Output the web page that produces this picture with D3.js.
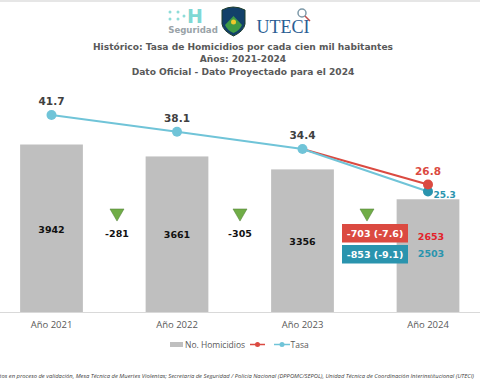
<!DOCTYPE html>
<html>
<head>
<meta charset="utf-8">
<script src="https://cdn.jsdelivr.net/npm/d3@7"></script>
<style>
  html, body { margin: 0; padding: 0; background: #fff; }
  svg { display: block; }
  text { font-family: "DejaVu Sans", sans-serif; }
</style>
</head>
<body>
<svg id="chart" width="480" height="384"></svg>
<script>
const years = ["Año 2021", "Año 2022", "Año 2023", "Año 2024"]
const homicidios = [3942, 3661, 3356, 2653]
const tasaOficial = [41.7, 38.1, 34.4, 25.3]
const tasaProyectada = [34.4, 26.8]
const proyectadoYears = ["Año 2023", "Año 2024"]
const cambios = ["-281", "-305"]
const titleLines = [
  "Histórico: Tasa de Homicidios por cada cien mil habitantes",
  "Años: 2021-2024",
  "Dato Oficial - Dato Proyectado para el 2024"
]
const source = "Datos en proceso de validación, Mesa Técnica de Muertes Violentas; Secretaría de Seguridad / Policía Nacional (DPPOMC/SEPOL), Unidad Técnica de Coordinación Interinstitucional (UTECI)"

const gray = "#bfbfbf", blue = "#70c4d8", red = "#db4a41", teal = "#2a94ae", green = "#70ad47"

const svg = d3.select("#chart")

svg.append("rect").attr("width", 480).attr("height", 2).attr("fill", "#e6e6e6")

const x = d3.scaleBand().domain(years).range([-11.25, 490.75]).paddingInner(0.5).paddingOuter(0.25)
const yBar = d3.scaleLinear().domain([0, 3942]).range([312, 144.5])
const yRate = d3.scaleLinear().domain([25.3, 41.7]).range([191.5, 115])
const cx = d => x(d) + x.bandwidth() / 2

// logos
const logos = svg.append("g")
logos.selectAll(".dot")
  .data([[170, 12], [170, 19], [178, 12], [178, 19], [184, 16]])
  .enter().append("circle")
  .attr("cx", d => d[0]).attr("cy", d => d[1]).attr("r", 1.5).attr("fill", "#8fdcd8")
logos.append("text").attr("x", 195).attr("y", 23).attr("text-anchor", "middle")
  .attr("font-size", 19).attr("font-weight", "bold").attr("fill", "#7fd8d4").text("H")
logos.append("text").attr("x", 193).attr("y", 33).attr("text-anchor", "middle")
  .attr("font-size", 8.6).attr("font-weight", "bold").attr("fill", "#9aa3a8").text("Seguridad")
logos.append("path").attr("d", "M222 10 Q233 4 245 10 L245 24 Q244 31 233.500 36 Q223 31 222 24 Z")
  .attr("fill", "#12406a").attr("stroke", "#1d3c2a").attr("stroke-width", 1)
logos.append("path").attr("d", "M225 25 L233.500 16 L242 25 Q240 30 233.500 33 Q227 30 225 25 Z").attr("fill", "#3f9b45")
logos.append("circle").attr("cx", 233.5).attr("cy", 22).attr("r", 2.5).attr("fill", "#f0c92c")
logos.append("text").attr("x", 256.500).attr("y", 33).style("font-family", "Liberation Serif")
  .attr("font-size", 18).attr("fill", "#2a5d93").text("UTECI")
logos.append("circle").attr("cx", 302).attr("cy", 13).attr("r", 4).attr("fill", "#fff")
  .attr("stroke", "#7d99a8").attr("stroke-width", 1.5)
logos.append("line").attr("x1", 305).attr("y1", 16).attr("x2", 310).attr("y2", 21)
  .attr("stroke", "#c0504d").attr("stroke-width", 1.5)

// titles
svg.selectAll(".title")
  .data(titleLines)
  .enter().append("text")
  .attr("class", "title")
  .attr("x", 243).attr("y", (_, i) => 49.500 + i * 12.500)
  .attr("text-anchor", "middle").attr("font-size", 9.1).attr("font-weight", "bold")
  .attr("fill", "#595959").text(d => d)

// bars
svg.selectAll(".bar")
  .data(homicidios)
  .enter().append("rect")
  .attr("class", "bar")
  .attr("x", (_, i) => x(years[i])).attr("width", x.bandwidth())
  .attr("y", d => yBar(d)).attr("height", d => yBar(0) - yBar(d))
  .attr("fill", gray)

const xAxis = d3.axisBottom(x).tickSize(0).tickPadding(9)
const axis = svg.append("g").attr("transform", "translate(0,312)").call(xAxis)
axis.select(".domain").attr("stroke", "#d9d9d9").attr("d", "M0,0.5H480")
axis.selectAll("text").attr("fill", "#595959").attr("font-size", 9.500).style("font-family", "Open Sans")

// lines
const line = (data, names) => d3.line().x((_, i) => cx(names[i])).y(d => yRate(d))(data)
svg.append("path").attr("d", line(tasaProyectada, proyectadoYears))
  .attr("fill", "none").attr("stroke", red).attr("stroke-width", 2)
svg.append("path").attr("d", line(tasaOficial, years))
  .attr("fill", "none").attr("stroke", blue).attr("stroke-width", 2)
svg.append("circle").attr("cx", cx(years[3])).attr("cy", yRate(25.3)).attr("r", 5).attr("fill", teal)
svg.append("circle").attr("cx", cx(years[3])).attr("cy", yRate(26.8)).attr("r", 5).attr("fill", red)
svg.selectAll(".pt")
  .data(tasaOficial.slice(0, 3))
  .enter().append("circle")
  .attr("class", "pt")
  .attr("cx", (_, i) => cx(years[i])).attr("cy", d => yRate(d)).attr("r", 5).attr("fill", blue)

svg.selectAll(".rate")
  .data(tasaOficial.slice(0, 3))
  .enter().append("text")
  .attr("class", "rate")
  .attr("x", (_, i) => cx(years[i])).attr("y", d => yRate(d) - 10)
  .attr("text-anchor", "middle").attr("font-size", 10.5).attr("font-weight", "bold")
  .attr("fill", "#404040").text(d => d.toFixed(1))
svg.append("text").attr("x", cx(years[3])).attr("y", yRate(26.8) - 10)
  .attr("text-anchor", "middle").attr("font-size", 10.5).attr("font-weight", "bold")
  .attr("fill", red).text("26.8")
svg.append("text").attr("x", cx(years[3]) + 5.500).attr("y", yRate(25.3) + 6.500)
  .attr("font-size", 9).attr("font-weight", "bold").attr("fill", teal).text("25.3")

// bar labels
const barLabelY = [233, 238, 245]
svg.selectAll(".barlabel")
  .data(homicidios.slice(0, 3))
  .enter().append("text")
  .attr("class", "barlabel")
  .attr("x", (_, i) => cx(years[i])).attr("y", (_, i) => barLabelY[i])
  .attr("text-anchor", "middle").attr("font-size", 9.500).attr("font-weight", "bold")
  .attr("fill", "#111").text(d => d)
svg.append("text").attr("x", cx(years[3]) + 3).attr("y", 240).attr("text-anchor", "middle")
  .attr("font-size", 9.500).attr("font-weight", "bold").attr("fill", "#e3222b").text("2653")
svg.append("text").attr("x", cx(years[3]) + 3).attr("y", 256.500).attr("text-anchor", "middle")
  .attr("font-size", 9.500).attr("font-weight", "bold").attr("fill", teal).text("2503")

// change markers between bars
const tri = d3.symbol().type(d3.symbolTriangle).size(85)
const triX = [117, 240, 367]
svg.selectAll(".tri")
  .data(triX)
  .enter().append("path")
  .attr("class", "tri")
  .attr("d", tri)
  .attr("transform", d => `translate(${[d, 213]}) rotate(180)`)
  .attr("fill", green).attr("stroke", "#4f7a35").attr("stroke-width", 0.5)
svg.selectAll(".cambio")
  .data(cambios)
  .enter().append("text")
  .attr("class", "cambio")
  .attr("x", (_, i) => triX[i]).attr("y", 237)
  .attr("text-anchor", "middle").attr("font-size", 9.500).attr("font-weight", "bold")
  .attr("fill", "#111").text(d => d)

// boxes for 2024
const boxes = [
  { label: "-703 (-7.6)", color: red, y: 224 },
  { label: "-853 (-9.1)", color: teal, y: 245 }
]
const box = svg.selectAll(".box").data(boxes).enter().append("g").attr("class", "box")
box.append("rect").attr("x", 342).attr("y", d => d.y).attr("width", 66).attr("height", 18.500).attr("fill", d => d.color)
box.append("text").attr("x", 375).attr("y", d => d.y + 13).attr("text-anchor", "middle")
  .attr("font-size", 9.500).attr("font-weight", "bold").attr("fill", "#fff").text(d => d.label)

// legend
const legend = svg.append("g").attr("font-size", 8.500).attr("fill", "#595959")
legend.append("rect").attr("x", 170).attr("y", 342).attr("width", 13).attr("height", 5).attr("fill", gray)
legend.append("text").attr("x", 185).attr("y", 348).style("font-family", "Open Sans").text("No. Homicidios")
legend.append("line").attr("x1", 250).attr("x2", 265).attr("y1", 344.500).attr("y2", 344.500).attr("stroke", red).attr("stroke-width", 1.5)
legend.append("circle").attr("cx", 257.500).attr("cy", 344.500).attr("r", 2.500).attr("fill", red)
legend.append("line").attr("x1", 274).attr("x2", 290).attr("y1", 344.500).attr("y2", 344.500).attr("stroke", blue).attr("stroke-width", 1.5)
legend.append("circle").attr("cx", 282).attr("cy", 344.500).attr("r", 2.500).attr("fill", blue)
legend.append("text").attr("x", 290.500).attr("y", 348).style("font-family", "Open Sans").text("Tasa")

// source note, runs off the left edge as in the original
svg.append("text").attr("x", 474).attr("y", 378).attr("text-anchor", "end")
  .attr("font-size", 5.850).attr("font-style", "italic").attr("fill", "#404040")
  .style("font-family", "Open Sans").text(source)
</script>
</body>
</html>
